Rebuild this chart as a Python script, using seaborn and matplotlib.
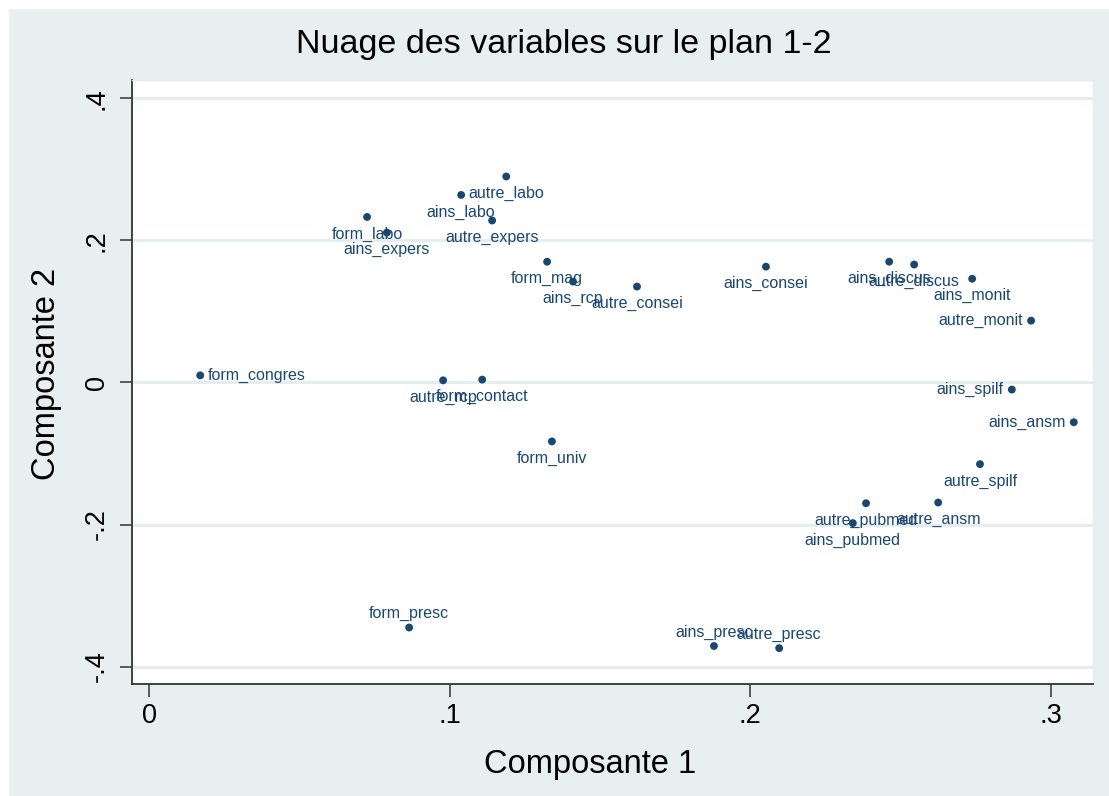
import matplotlib
matplotlib.use('Agg')
import pandas as pd
import matplotlib.pyplot as plt
import seaborn as sns
from matplotlib.patches import Rectangle

# coordinates des variables sur les deux premieres composantes
names = ['autre_labo', 'ains_labo', 'form_labo', 'autre_expers', 'ains_expers',
         'form_mag', 'ains_rcp', 'autre_consei', 'ains_consei', 'ains_discus',
         'autre_discus', 'ains_monit', 'autre_monit', 'form_congres', 'autre_rcp',
         'form_contact', 'form_univ', 'ains_spilf', 'ains_ansm', 'autre_spilf',
         'autre_pubmed', 'autre_ansm', 'ains_pubmed', 'form_presc', 'ains_presc',
         'autre_presc']
comp1 = [0.1188, 0.1038, 0.0725, 0.1141, 0.0791,
         0.1324, 0.1410, 0.1623, 0.2052, 0.2462,
         0.2545, 0.2738, 0.2934, 0.0170, 0.0978,
         0.1108, 0.1340, 0.2870, 0.3076, 0.2764,
         0.2385, 0.2625, 0.2341, 0.0865, 0.1879,
         0.2096]
comp2 = [0.290, 0.264, 0.233, 0.228, 0.211,
         0.170, 0.142, 0.135, 0.163, 0.170,
         0.166, 0.146, 0.087, 0.010, 0.003,
         0.004, -0.083, -0.010, -0.056, -0.115,
         -0.170, -0.169, -0.198, -0.345, -0.371,
         -0.374]

xticks = [0, 0.1, 0.2, 0.3]
xtick_labels = ['0', '.1', '.2', '.3']
yticks = [-0.4, -0.2, 0, 0.2, 0.4]
ytick_labels = ['-.4', '-.2', '0', '.2', '.4']

# position des etiquettes (par defaut en dessous)
label_pos = {'form_congres': 'right', 'autre_monit': 'left', 'ains_spilf': 'left',
             'ains_ansm': 'left', 'form_presc': 'above', 'ains_presc': 'above',
             'autre_presc': 'above'}

df = pd.DataFrame({'name': names, 'comp1': comp1, 'comp2': comp2})

navy = '#1A476F'
bg = '#E7EFF1'

sns.set_theme(style='white')
plt.rcParams['font.family'] = ['Liberation Sans', 'DejaVu Sans']

fig = plt.figure(figsize=(11.09, 7.96), dpi=100, facecolor=bg)
fig.patches.append(Rectangle((0, 1 - 8 / 796), 1, 8 / 796, transform=fig.transFigure,
                             color='white', zorder=-1))
fig.patches.append(Rectangle((0, 0), 8 / 1109, 1, transform=fig.transFigure,
                             color='white', zorder=-1))
ax = fig.add_axes([132 / 1109, 1 - 684 / 796, (1093 - 132) / 1109, (684 - 80) / 796])
ax.set_facecolor('white')

for yt in yticks:
    ax.axhline(yt, color='#E3ECEF', lw=2, zorder=0)

sns.scatterplot(data=df, x='comp1', y='comp2', color=navy, s=32, edgecolor='none',
                ax=ax, zorder=3)

offsets = {'below': (0, -17, 'center'), 'right': (8, 0, 'left'),
           'left': (-8, 0, 'right'), 'above': (0, 14, 'center')}
for _, row in df.iterrows():
    dx, dy, ha = offsets[label_pos.get(row['name'], 'below')]
    ax.annotate(row['name'], (row['comp1'], row['comp2']), xytext=(dx, dy),
                textcoords='offset pixels', ha=ha, va='center', fontsize=11.5,
                color=navy, zorder=4)

ax.set_xlim(-0.0057, 0.314)
ax.set_ylim(-0.4245, 0.4258)
ax.set_xticks(xticks)
ax.set_xticklabels(xtick_labels)
ax.set_yticks(yticks)
ax.set_yticklabels(ytick_labels, rotation=90, va='center')
ax.tick_params(axis='both', direction='out', length=9, width=1.1, color='#333333',
               labelsize=19.5, labelcolor='black', left=True, bottom=True)
ax.tick_params(axis='x', pad=5)
ax.tick_params(axis='y', pad=7)

for side in ['left', 'bottom']:
    ax.spines[side].set_color('#333333')
    ax.spines[side].set_linewidth(1.3)
for side in ['top', 'right']:
    ax.spines[side].set_color('#E3ECEF')
    ax.spines[side].set_linewidth(1)

ax.set_xlabel('Composante 1', fontsize=23.5, color='black', va='center')
ax.xaxis.set_label_coords(0.4766, -0.134)
ax.set_ylabel('Composante 2', fontsize=23.5, color='black', va='center')
ax.yaxis.set_label_coords(-0.0885, 0.513)

fig.text(564 / 1109, 1 - 45 / 796, 'Nuage des variables sur le plan 1-2',
         fontsize=24.5, ha='center', va='center', color='black')

fig.savefig('out.png', dpi=100, facecolor=bg)
